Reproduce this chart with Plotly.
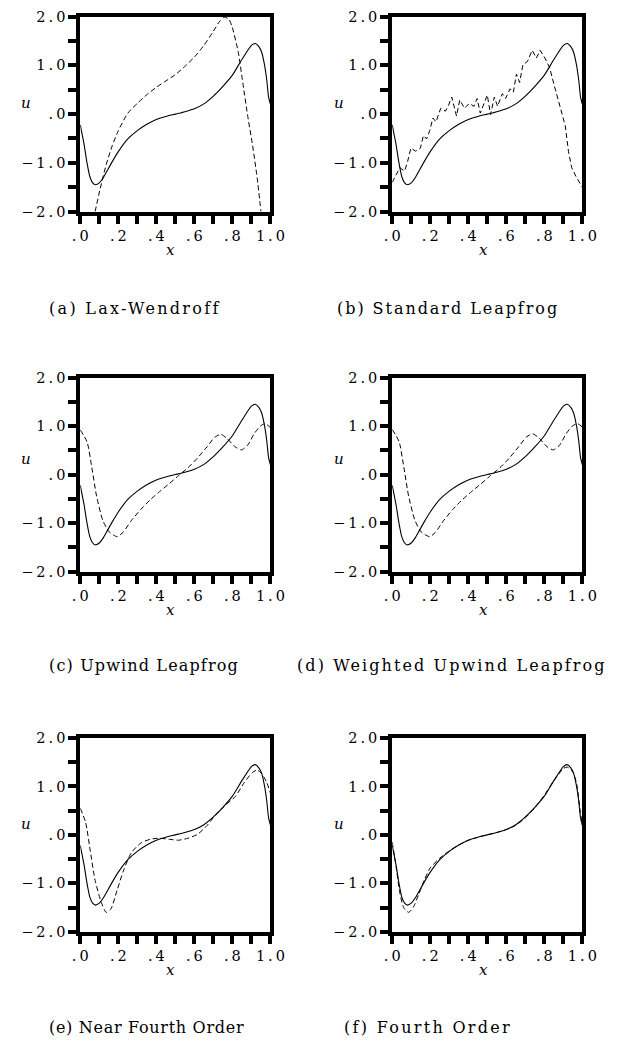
import plotly.graph_objects as go

# ---- data -------------------------------------------------------------
# exact solution (solid line, identical in every panel)
x_exact = [0.0, 0.01, 0.02, 0.035, 0.05, 0.065, 0.08, 0.1, 0.12, 0.136, 0.169, 0.2, 0.25,
           0.3, 0.35, 0.4, 0.45, 0.5, 0.55, 0.6, 0.65, 0.7, 0.75, 0.8, 0.85, 0.9, 0.92,
           0.94, 0.953, 0.969, 0.981, 0.99, 1.0]
u_exact = [-0.22, -0.42, -0.62, -0.99, -1.28, -1.41, -1.45, -1.41, -1.31, -1.20, -0.97,
           -0.77, -0.51, -0.34, -0.21, -0.11, -0.05, 0.0, 0.05, 0.11, 0.21, 0.37, 0.57,
           0.80, 1.12, 1.41, 1.45, 1.38, 1.28, 1.01, 0.69, 0.36, 0.2]

# (a) Lax-Wendroff
x_lw = [0.078, 0.103, 0.136, 0.169, 0.2, 0.25, 0.3, 0.35, 0.4, 0.45, 0.5, 0.55, 0.6,
        0.65, 0.7, 0.732, 0.757, 0.781, 0.798, 0.831, 0.856, 0.881, 0.906, 0.930, 0.95]
u_lw = [-2.0, -1.56, -1.04, -0.64, -0.34, 0.02, 0.22, 0.40, 0.55, 0.68, 0.81, 0.98, 1.17,
        1.41, 1.70, 1.90, 1.99, 1.95, 1.80, 1.27, 0.61, -0.05, -0.64, -1.30, -2.0]

# (b) Standard Leapfrog
x_slf = [0.0, 0.04, 0.065, 0.081, 0.098, 0.123, 0.148, 0.164, 0.181, 0.197, 0.214, 0.23,
         0.255, 0.28, 0.297, 0.313, 0.338, 0.355, 0.38, 0.405, 0.43, 0.446, 0.463, 0.488,
         0.5, 0.517, 0.537, 0.554, 0.579, 0.596, 0.62, 0.637, 0.653, 0.67, 0.687, 0.711,
         0.736, 0.758, 0.778, 0.803, 0.828, 0.852, 0.886, 0.91, 0.927, 0.944, 0.969, 1.0]
u_slf = [-1.40, -1.10, -1.17, -0.97, -0.70, -0.76, -0.70, -0.44, -0.51, -0.34, -0.08, -0.16,
         0.12, 0.06, 0.19, 0.35, -0.04, 0.29, 0.12, 0.22, 0.16, 0.32, 0.02, 0.29,
         0.39, -0.01, 0.35, 0.16, 0.42, 0.32, 0.52, 0.45, 0.82, 0.65, 1.01, 1.08,
         1.31, 1.15, 1.31, 1.15, 0.95, 0.59, 0.09, -0.24, -0.77, -1.10, -1.30, -1.50]

# (c) Upwind Leapfrog
x_ulf = [0.0, 0.036, 0.061, 0.086, 0.119, 0.152, 0.194, 0.227, 0.268, 0.318, 0.368, 0.417,
         0.467, 0.517, 0.566, 0.616, 0.666, 0.707, 0.74, 0.773, 0.815, 0.848, 0.881, 0.914,
         0.947, 0.972, 1.0]
u_ulf = [0.92, 0.67, 0.14, -0.45, -0.95, -1.18, -1.28, -1.18, -0.95, -0.72, -0.52, -0.35,
         -0.19, -0.02, 0.14, 0.34, 0.57, 0.77, 0.83, 0.74, 0.57, 0.51, 0.61, 0.84,
         1.0, 1.05, 0.97]

# (d) Weighted Upwind Leapfrog
x_wulf = [0.0, 0.036, 0.061, 0.086, 0.119, 0.152, 0.197, 0.227, 0.268, 0.318, 0.368, 0.417,
          0.467, 0.517, 0.566, 0.616, 0.666, 0.707, 0.74, 0.773, 0.815, 0.848, 0.881, 0.914,
          0.947, 0.975, 1.0]
u_wulf = [0.93, 0.68, 0.15, -0.44, -0.94, -1.18, -1.28, -1.19, -0.96, -0.72, -0.52, -0.35,
          -0.19, -0.02, 0.14, 0.34, 0.58, 0.78, 0.84, 0.75, 0.57, 0.51, 0.61, 0.84,
          1.0, 1.05, 0.98]

# (e) Near Fourth Order
x_nfo = [0.0, 0.028, 0.053, 0.078, 0.111, 0.136, 0.161, 0.194, 0.227, 0.268, 0.318, 0.368,
         0.417, 0.467, 0.517, 0.566, 0.616, 0.666, 0.715, 0.765, 0.815, 0.864, 0.906, 0.93,
         0.955, 0.98, 1.0]
u_nfo = [0.55, 0.26, -0.34, -0.94, -1.40, -1.60, -1.53, -1.14, -0.74, -0.37, -0.17, -0.09,
         -0.07, -0.09, -0.11, -0.07, 0.01, 0.19, 0.43, 0.62, 0.79, 1.09, 1.29, 1.34,
         1.26, 1.09, 0.86]

# (f) Fourth Order
x_fo = [0.0, 0.02, 0.04, 0.06, 0.086, 0.11, 0.14, 0.17, 0.2, 0.25, 0.3, 0.35, 0.4, 0.45,
        0.5, 0.55, 0.6, 0.65, 0.7, 0.75, 0.8, 0.85, 0.9, 0.92, 0.95, 0.97, 0.99, 1.0]
u_fo = [-0.15, -0.65, -1.2, -1.5, -1.60, -1.50, -1.22, -0.92, -0.68, -0.48, -0.33, -0.21,
        -0.11, -0.05, 0.0, 0.05, 0.11, 0.2, 0.35, 0.56, 0.82, 1.12, 1.37, 1.40, 1.30, 1.05,
        0.45, 0.2]

captions = ["(a) Lax-Wendroff", "(b) Standard Leapfrog", "(c) Upwind Leapfrog",
            "(d) Weighted Upwind Leapfrog", "(e) Near Fourth Order", "(f) Fourth Order"]

x_tickvals = [0.0, 0.2, 0.4, 0.6, 0.8, 1.0]
x_ticktext = [".0", ".2", ".4", ".6", ".8", "1.0"]
x_minor = [0.1, 0.3, 0.5, 0.7, 0.9]
y_tickvals = [-2.0, -1.0, 0.0, 1.0, 2.0]
y_ticktext = ["\u22122.0", "\u22121.0", ".0", "1.0", "2.0"]
y_minor = [-1.5, -0.5, 0.5, 1.5]

# ---- layout geometry (pixels) ------------------------------------------
W, H = 634, 1052
col_px = [(75, 272.3), (398.7, 596)]
row_px = [(8.8, 206.7), (375.3, 572.3), (741.3, 938)]
u_label_x = [19, 343]
u_label_y = [96.7, 458.3, 828.3]
x_label_dx = [-5.5, -3.5]
caption_left = [40, 339, 40, 298, 40, 347]
caption_y = [305, 305, 668, 668, 1035, 1035]
caption_ls = [2.3, 1.95, 1.15, 2.1, 0.7, 2.3]

SERIF = "DejaVu Serif"


def spaced(s, ls):
    # letter-spacing on all but the final glyph so no trailing gap is added
    return '<span style="letter-spacing:%spx">%s</span>%s' % (ls, s[:-1], s[-1])


schemes = [(x_lw, u_lw, "spline"), (x_slf, u_slf, "linear"), (x_ulf, u_ulf, "spline"),
           (x_wulf, u_wulf, "spline"), (x_nfo, u_nfo, "spline"), (x_fo, u_fo, "spline")]

fig = go.Figure()
annotations = []
tick_common = dict(ticks="outside", ticklen=8, tickwidth=3.5, tickcolor="black")
label_font = dict(family=SERIF, size=14.5, color="black")
for i, (xd, ud, shape) in enumerate(schemes):
    n = i + 1
    r, c = divmod(i, 2)
    suffix = "" if n == 1 else str(n)
    fig.add_trace(go.Scatter(x=x_exact, y=u_exact, mode="lines",
                             line=dict(color="black", width=1.1, shape="spline", smoothing=0.6),
                             xaxis="x" + suffix, yaxis="y" + suffix, showlegend=False,
                             hoverinfo="skip"))
    fig.add_trace(go.Scatter(x=xd, y=ud, mode="lines",
                             line=dict(color="black", width=1.0, shape=shape,
                                       dash="5px,3px",
                                       **({"smoothing": 0.6} if shape == "spline" else {})),
                             xaxis="x" + suffix, yaxis="y" + suffix, showlegend=False,
                             hoverinfo="skip"))

    x0, x1 = col_px[c]
    y0, y1 = row_px[r]
    fig.layout["xaxis" + suffix] = dict(
        domain=[x0 / W, x1 / W], anchor="y" + suffix, range=[0, 1],
        showline=True, linewidth=4, linecolor="black", mirror=True,
        showgrid=False, zeroline=False, fixedrange=True,
        tickmode="array", tickvals=x_tickvals,
        ticktext=[spaced(t, 3) for t in x_ticktext], tickfont=label_font,
        minor=dict(tickvals=x_minor, showgrid=False, **tick_common),
        **tick_common)
    fig.layout["yaxis" + suffix] = dict(
        domain=[1 - y1 / H, 1 - y0 / H], anchor="x" + suffix, range=[-2, 2],
        showline=True, linewidth=4, linecolor="black", mirror=True,
        showgrid=False, zeroline=False, fixedrange=True,
        tickmode="array", tickvals=y_tickvals,
        ticktext=[spaced(t, 3) for t in y_ticktext], tickfont=label_font,
        minor=dict(tickvals=y_minor, showgrid=False, **tick_common),
        **tick_common)

    # axis titles
    annotations.append(dict(text="u", xref="paper", yref="paper",
                            x=u_label_x[c] / W, y=1 - u_label_y[r] / H,
                            showarrow=False, xanchor="center", yanchor="middle",
                            font=dict(family=SERIF, size=15, color="black", style="italic")))
    annotations.append(dict(text="x", xref="paper", yref="paper",
                            x=((x0 + x1) / 2 + x_label_dx[c]) / W, y=1 - (y1 + 39) / H,
                            showarrow=False, xanchor="center", yanchor="middle",
                            font=dict(family=SERIF, size=15, color="black", style="italic")))
    # caption
    annotations.append(dict(text=spaced(captions[i], caption_ls[i]), xref="paper",
                            yref="paper", x=caption_left[i] / W, y=1 - caption_y[i] / H,
                            showarrow=False, xanchor="left", yanchor="middle", align="left",
                            font=dict(family=SERIF, size=16, color="black")))

fig.update_layout(width=W, height=H, margin=dict(l=0, r=0, t=0, b=0),
                  paper_bgcolor="white", plot_bgcolor="white",
                  annotations=annotations)

fig.write_html("out.html", config={"displayModeBar": False})
